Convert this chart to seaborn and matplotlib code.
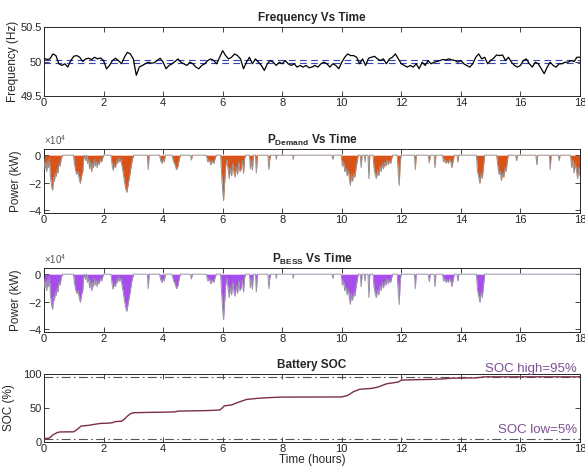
import numpy as np
import pandas as pd
import seaborn as sns
import matplotlib
matplotlib.use("Agg")
import matplotlib.pyplot as plt
from matplotlib.ticker import FuncFormatter, ScalarFormatter

# ---------------------------------------------------------------- data
# grid frequency, sampled every 0.1 h from 0 to 18 h
freq_hz = [
    50.048, 50.029, 50.038, 50.110, 50.086, 49.967, 49.943, 49.967, 49.919, 50.014,
    50.076, 50.086, 50.062, 50.000, 50.038, 50.048, 50.029, 50.062, 50.038, 50.052,
    50.014, 49.895, 49.943, 50.014, 50.048, 50.014, 49.967, 50.062, 50.133, 50.110,
    50.038, 49.800, 49.919, 49.943, 49.967, 49.990, 49.976, 49.981, 50.014, 50.048,
    49.990, 49.895, 49.943, 49.967, 50.000, 50.038, 49.990, 49.967, 49.943, 49.990,
    49.967, 49.919, 49.895, 49.943, 49.967, 50.014, 50.038, 50.014, 49.967, 50.062,
    50.157, 50.086, 50.038, 50.062, 50.110, 50.086, 50.038, 49.895, 49.990, 50.062,
    49.967, 50.038, 49.990, 49.943, 49.871, 49.967, 50.014, 49.990, 49.943, 49.990,
    49.967, 50.014, 49.967, 49.943, 49.967, 49.919, 49.943, 49.919, 49.943, 49.910,
    49.919, 49.943, 49.919, 49.967, 49.990, 49.967, 49.919, 49.967, 49.943, 49.895,
    49.990, 50.062, 50.110, 50.086, 50.086, 50.062, 49.967, 50.038, 49.943, 50.048,
    50.062, 50.076, 50.038, 50.014, 50.038, 49.967, 50.038, 50.062, 50.110, 50.038,
    49.967, 49.943, 49.919, 49.943, 49.919, 49.967, 49.895, 49.990, 49.943, 50.014,
    49.967, 49.990, 50.000, 50.014, 50.029, 50.024, 50.038, 50.024, 50.014, 49.990,
    50.014, 49.967, 49.943, 49.919, 49.967, 50.062, 50.110, 50.038, 50.062, 49.967,
    50.014, 50.048, 50.095, 50.086, 50.095, 50.014, 50.062, 49.990, 49.943, 49.919,
    49.943, 50.014, 50.038, 49.967, 49.919, 49.990, 49.967, 49.895, 49.824, 49.919,
    49.990, 49.943, 49.919, 49.967, 49.967, 49.990, 49.990, 50.014, 50.000, 50.062,
    50.062,
]
freq_time = np.linspace(0, 18, len(freq_hz))
freq_band = [50.02, 49.985]

# load demand (kW) at irregular instants (h)
demand_time = [
    0.00, 0.03, 0.06, 0.09, 0.12, 0.15, 0.18, 0.21, 0.25, 0.29, 0.32, 0.35, 0.38, 0.41,
    0.44, 0.47, 0.50, 0.54, 0.58, 0.62, 0.99, 1.02, 1.06, 1.10, 1.14, 1.18, 1.22, 1.26,
    1.30, 1.33, 1.36, 1.40, 1.43, 1.46, 1.50, 1.53, 1.56, 1.60, 1.63, 1.66, 1.69, 1.72,
    1.75, 1.78, 1.81, 1.85, 1.89, 1.93, 1.97, 2.00, 2.25, 2.28, 2.32, 2.36, 2.40, 2.44,
    2.47, 2.50, 2.54, 2.58, 2.62, 2.66, 2.70, 2.74, 2.78, 2.82, 2.86, 2.90, 2.94, 2.98,
    3.01, 3.47, 3.50, 3.53, 3.88, 3.92, 3.96, 4.00, 4.04, 4.07, 4.30, 4.34, 4.40, 4.45,
    4.50, 4.55, 4.58, 4.92, 4.95, 4.98, 5.45, 5.50, 5.55, 5.60, 5.65, 5.70, 5.75, 5.78,
    5.93, 5.96, 6.00, 6.03, 6.06, 6.10, 6.14, 6.18, 6.22, 6.26, 6.30, 6.34, 6.38, 6.42,
    6.46, 6.50, 6.54, 6.58, 6.62, 6.66, 6.70, 6.74, 6.77, 6.90, 6.93, 6.97, 7.00, 7.03,
    7.10, 7.13, 7.17, 7.52, 7.55, 7.58, 7.61, 7.78, 7.80, 7.82, 8.35, 8.37, 8.39, 9.67,
    9.70, 9.73, 9.98, 10.02, 10.06, 10.10, 10.14, 10.18, 10.22, 10.26, 10.29, 10.32,
    10.36, 10.40, 10.44, 10.48, 10.52, 10.55, 10.62, 10.65, 10.68, 10.76, 10.78, 10.80,
    10.88, 10.91, 10.94, 11.05, 11.08, 11.12, 11.16, 11.20, 11.24, 11.28, 11.32, 11.36,
    11.40, 11.44, 11.48, 11.52, 11.56, 11.60, 11.64, 11.68, 11.71, 11.86, 11.90, 11.93,
    11.96, 11.99, 12.44, 12.47, 12.50, 12.90, 12.94, 12.97, 13.10, 13.13, 13.16, 13.38,
    13.42, 13.46, 13.50, 13.54, 13.58, 13.62, 13.66, 13.70, 13.74, 13.78, 13.87, 13.90,
    13.93, 14.52, 14.56, 14.60, 14.64, 14.68, 14.72, 14.76, 14.80, 15.20, 15.24, 15.28,
    15.32, 15.36, 15.40, 15.44, 15.48, 15.52, 15.56, 15.59, 15.84, 15.87, 15.90, 16.52,
    16.55, 16.58, 16.97, 17.00, 17.03, 17.27, 17.30, 17.33, 17.68, 17.72, 17.76, 17.80,
    17.84, 17.88, 17.92, 17.96, 18.00,
]
demand_kw = [
    -3000, -10000, -5000, -12000, -4000, -9000, -2000, -14000, -22000, -25500, -16000,
    -19000, -13000, -15500, -10000, -13000, -6000, -8000, -2000, 0, 0, -6000, -11000,
    -14000, -12000, -17000, -20500, -15000, -12000, -3000, 0, -4000, 0, -6000, -3000,
    -10000, -5000, -12000, -6000, -9000, -3000, -8000, -4000, -9000, -5000, -7000, -3000,
    -5000, -2000, 0, 0, -6000, -11000, -7000, -9000, -4000, -6000, -2000, -5000, -3000,
    -8000, -13000, -19000, -24000, -27000, -22000, -17000, -12000, -6000, -2000, 0, 0,
    -10500, 0, 0, -4000, -6000, -3000, -5000, 0, 0, -4000, -7000, -10500, -8000, -2000,
    0, 0, -3500, 0, 0, -5000, -3000, -7000, -4000, -6000, -2000, 0, 0, -12000, -26000,
    -33000, -22000, -8000, -3000, -10000, -17000, -9000, -15000, -6000, -13000, -16000,
    -8000, -14000, -5000, -12000, -10000, -4000, -13000, -2000, 0, 0, -10000, -4000,
    -11000, 0, 0, -13000, 0, 0, -10500, -3000, 0, 0, -3000, 0, 0, -3000, 0, 0, -3000, 0,
    0, -8000, -5000, -12000, -9000, -15000, -11000, -18000, -22000, -14000, -19000,
    -13000, -16000, -9000, -4000, 0, 0, -9000, 0, 0, -5000, 0, 0, -17000, 0, 0, -9000,
    -14000, -17000, -11000, -15000, -8000, -12000, -6000, -10000, -5000, -8000, -3000,
    -7000, -4000, -6000, -2000, 0, 0, -14000, -22000, -6000, 0, 0, -10500, 0, 0, -5500,
    0, 0, -9000, 0, 0, -5000, -3000, -6000, -4000, -6000, -3000, -5000, -9000, -4000, 0,
    0, -5000, 0, 0, -12000, -16000, -20500, -13000, -17000, -8000, 0, 0, -8000, -14000,
    -11000, -18500, -13000, -16000, -9000, -12000, -4000, 0, 0, -4000, 0, 0, -7000, 0, 0,
    -10500, 0, 0, -4000, 0, 0, -9000, -4000, -13000, -6000, -11000, -17000, -9000, -15000,
]
# the battery follows the demand until it reaches its upper SOC limit
bess_full_time = 14.85

# battery state of charge (%)
soc_time = [
    0.0, 0.15, 0.2, 0.3, 0.45, 0.55, 1.0, 1.1, 1.25, 1.5, 1.7, 1.9, 2.2, 2.3, 2.4, 2.6,
    2.7, 2.8, 2.9, 3.0, 3.5, 4.0, 4.4, 4.5, 5.0, 5.5, 5.9, 6.0, 6.05, 6.3, 6.5, 6.8,
    7.2, 7.6, 8.0, 10.0, 10.2, 10.4, 10.6, 11.0, 11.2, 11.5, 11.8, 11.9, 12.0, 12.5,
    13.0, 13.4, 13.7, 14.0, 14.5, 14.7, 14.8, 18.0,
]
soc_pct = [
    5.0, 5.5, 6.5, 10.5, 14.0, 14.8, 15.0, 18.0, 23.5, 24.5, 26.0, 27.3, 27.8, 28.5,
    30.0, 30.5, 33.5, 38.0, 41.5, 43.0, 43.5, 43.8, 44.3, 45.4, 45.8, 46.2, 47.0, 50.5,
    53.0, 54.5, 58.0, 62.5, 64.3, 65.3, 66.0, 66.2, 68.5, 74.0, 77.5, 78.8, 80.5, 85.5,
    87.5, 88.2, 91.0, 91.6, 92.0, 92.8, 93.8, 94.0, 94.2, 95.3, 95.8, 95.8,
]
soc_high, soc_low = 95, 5

x_ticks = list(range(0, 19, 2))

# ---------------------------------------------------------------- style
sns.set_theme(style="ticks")
plt.rcParams["font.family"] = ["Liberation Sans", "DejaVu Sans"]
plt.rcParams["mathtext.fontset"] = "custom"
plt.rcParams["mathtext.rm"] = "Liberation Sans"
plt.rcParams["mathtext.bf"] = "Liberation Sans:bold"
plt.rcParams["mathtext.it"] = "Liberation Sans:italic"

INK = "#262626"
TICK_FS = 8
LABEL_FS = 8.5
TITLE_FS = 8.5

fig = plt.figure(figsize=(5.85, 4.66), dpi=100)
left, width = 0.0752, 0.9162
ax_f = fig.add_axes([left, 0.7940, width, 0.1480])
ax_d = fig.add_axes([left, 0.5430, width, 0.1373])
ax_b = fig.add_axes([left, 0.2876, width, 0.1373])
ax_s = fig.add_axes([left, 0.0515, width, 0.1460])


def style_axes(ax):
    ax.set_xlim(0, 18)
    ax.set_xticks(x_ticks)
    ax.tick_params(direction="in", top=True, right=True, length=3.5, width=0.6,
                   colors=INK, labelsize=TICK_FS, pad=1.5)
    for s in ax.spines.values():
        s.set_visible(True)
        s.set_color(INK)
        s.set_linewidth(0.7)
    ax.set_xlabel("")


g = FuncFormatter(lambda v, p: f"{v:g}")

# --- frequency
freq_df = pd.DataFrame({"t": freq_time, "f": freq_hz})
for lvl in freq_band:
    ax_f.axhline(lvl, color="#3444B0", lw=0.8, ls=(0, (6, 4)), zorder=1)
sns.lineplot(data=freq_df, x="t", y="f", ax=ax_f, color="black", lw=0.9,
             estimator=None, zorder=3)
style_axes(ax_f)
ax_f.set_ylim(49.5, 50.5)
ax_f.set_yticks([49.5, 50, 50.5])
ax_f.yaxis.set_major_formatter(g)
ax_f.set_ylabel("Frequency (Hz)", fontsize=LABEL_FS, color=INK, labelpad=1)
ax_f.set_title("Frequency Vs Time", fontsize=TITLE_FS, fontweight="bold", pad=4)

# --- demand and battery power
demand_df = pd.DataFrame({"t": demand_time, "p": demand_kw})
bess_df = demand_df.assign(p=np.where(demand_df["t"] <= bess_full_time, demand_df["p"], 0))
bess_df = pd.concat([bess_df, pd.DataFrame({"t": [18.0], "p": [0]})]).drop_duplicates("t", keep="last")

for ax, df, fill, edge, name in [
    (ax_d, demand_df, "#D95319", "#9C8F8A", "Demand"),
    (ax_b, bess_df, "#A64DEB", "#9A92A8", "BESS"),
]:
    ax.fill_between(df["t"], df["p"], 0, color=fill, lw=0, zorder=2)
    sns.lineplot(data=df, x="t", y="p", ax=ax, color=edge, lw=0.7,
                 estimator=None, zorder=3)
    style_axes(ax)
    ax.set_ylim(-42000, 4500)
    ax.set_yticks([-40000, -20000, 0])
    fmt = ScalarFormatter(useMathText=True)
    fmt.set_powerlimits((0, 0))
    ax.yaxis.set_major_formatter(fmt)
    ax.yaxis.get_offset_text().set_fontsize(7)
    ax.yaxis.get_offset_text().set_color("#555555")
    ax.set_ylabel("Power (kW)", fontsize=LABEL_FS, color=INK, labelpad=4)
    ax.set_title(r"$\mathbf{P_{" + name + r"}}$ Vs Time", fontsize=TITLE_FS,
                 fontweight="bold", pad=4)

# --- state of charge
soc_df = pd.DataFrame({"t": soc_time, "soc": soc_pct})
for lvl in (soc_high, soc_low):
    ax_s.axhline(lvl, color="#555555", lw=0.8, ls=(0, (8, 3, 1.5, 3)), zorder=1)
sns.lineplot(data=soc_df, x="t", y="soc", ax=ax_s, color="#7B2D4F", lw=1.0,
             estimator=None, zorder=3)
style_axes(ax_s)
ax_s.set_ylim(0, 100)
ax_s.set_yticks([0, 50, 100])
ax_s.yaxis.set_major_formatter(g)
ax_s.set_ylabel("SOC (%)", fontsize=LABEL_FS, color=INK, labelpad=6)
ax_s.set_xlabel("Time (hours)", fontsize=LABEL_FS, color=INK, labelpad=0)
ax_s.set_title("Battery SOC", fontsize=TITLE_FS, fontweight="bold", pad=4)
ax_s.text(17.9, 99, f"SOC high={soc_high}%", ha="right", va="bottom",
          fontsize=9.5, color="#7E4F92", clip_on=False)
ax_s.text(17.9, 9, f"SOC low={soc_low}%", ha="right", va="bottom",
          fontsize=9.5, color="#7E4F92")

fig.savefig("out.png", dpi=100)
